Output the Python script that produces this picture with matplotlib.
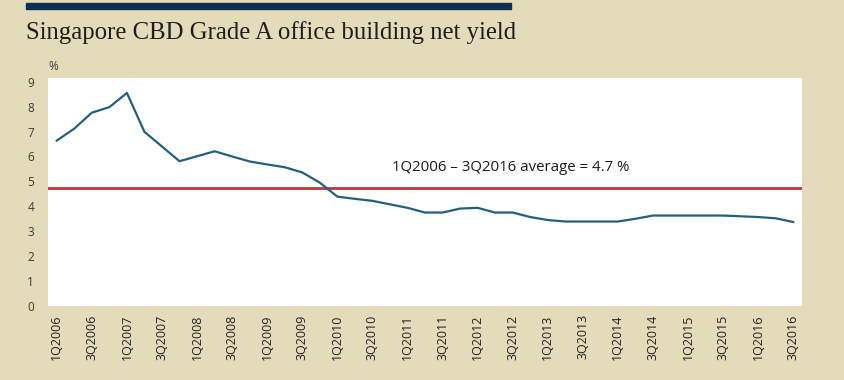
import numpy as np
import matplotlib
matplotlib.use('Agg')
import matplotlib.pyplot as plt
from matplotlib.patches import Rectangle

# ----------------------------------------------------------------------------
# Data
# ----------------------------------------------------------------------------

quarters = ['%dQ%d' % (q, y) for y in range(2006, 2017) for q in (1, 2, 3, 4)][:43]

net_yield = [6.64, 7.12, 7.76, 7.98, 8.55, 6.99, 6.40, 5.81, 6.01, 6.21,
             6.00, 5.80, 5.68, 5.57, 5.36, 4.95, 4.39, 4.30, 4.22, 4.08,
             3.94, 3.75, 3.75, 3.91, 3.94, 3.75, 3.75, 3.57, 3.45, 3.39,
             3.39, 3.39, 3.39, 3.50, 3.63, 3.63, 3.63, 3.63, 3.63, 3.60,
             3.57, 3.52, 3.37]

average = 4.75
avg_label = '1Q2006 \u2013 3Q2016 average = 4.7 %'
title = 'Singapore CBD Grade A office building net yield'
yticks = list(range(0, 10))

# ----------------------------------------------------------------------------
# Plot
# ----------------------------------------------------------------------------

bg = '#e3dbb9'
W, H = 845, 380

fig = plt.figure(figsize=(W / 100, H / 100), dpi=100, facecolor=bg)
ax = fig.add_axes([48 / W, 1 - 306 / H, (802 - 48) / W, (306 - 78) / H])
ax.set_facecolor('white')

x = np.arange(len(net_yield))
ax.plot(x, net_yield, color='#22607e', lw=1.6, zorder=3)
ax.axhline(average, color='#c0353a', lw=2.0, zorder=2)
ax.text(25.9, 5.54, avg_label, ha='center', va='center', fontsize=10.8,
        family='Open Sans', color='#1a1a1a')

ax.set_xlim(-0.5, len(net_yield) - 0.5)
ax.set_ylim(0, 9.15)
ax.set_yticks(yticks)
ax.set_xticks(x[::2])
ax.set_xticklabels(quarters[::2], rotation=90, fontsize=9, family='Open Sans',
                   color='#222222')
for lab in ax.get_yticklabels():
    lab.set_fontsize(8.5)
    lab.set_family('Open Sans')
    lab.set_color('#3a3a3a')
ax.tick_params(axis='both', length=0)
ax.tick_params(axis='y', pad=10)
ax.tick_params(axis='x', pad=6)
for s in ax.spines.values():
    s.set_visible(False)

# header bar, title, unit
fig.patches.append(Rectangle((26 / W, 1 - 9 / H), (511 - 26) / W, 6 / H,
                             transform=fig.transFigure, color='#0d2f52'))
fig.text(26 / W, 1 - 33 / H, title, ha='left', va='center', fontsize=17.8,
         family='Liberation Serif', color='#1e1e1e')
fig.text(53 / W, 1 - 66 / H, '%', ha='center', va='center', fontsize=8.5,
         family='Open Sans', color='#3a3a3a')

fig.savefig('out.png', dpi=100, facecolor=bg)
